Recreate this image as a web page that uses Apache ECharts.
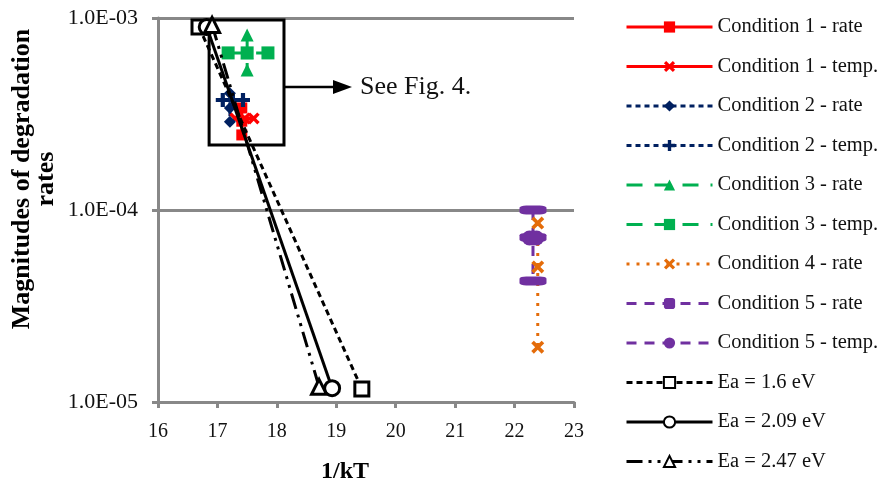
<!DOCTYPE html>
<html>
<head>
<meta charset="utf-8">
<script src="https://cdn.jsdelivr.net/npm/echarts@6/dist/echarts.min.js"></script>
<style>
  html, body { margin: 0; padding: 0; background: #fff; }
  #main { width: 883px; height: 485px; }
</style>
</head>
<body>
<div id="main"></div>
<script>
// data: [1/kT, rate]
const cond1Rate = [[17.41, 3.4e-4], [17.41, 2.9e-4], [17.41, 2.46e-4]];
const cond1Temp = [[17.30, 3.0e-4], [17.46, 3.0e-4], [17.61, 3.0e-4]];
const cond2Rate = [[17.21, 4.05e-4], [17.21, 3.4e-4], [17.21, 2.88e-4]];
const cond2Temp = [[17.09, 3.74e-4], [17.26, 3.74e-4], [17.43, 3.74e-4]];
const cond3Rate = [[17.50, 8.15e-4], [17.50, 6.6e-4], [17.50, 5.36e-4]];
const cond3Temp = [[17.18, 6.58e-4], [17.50, 6.58e-4], [17.85, 6.58e-4]];
const cond4Rate = [[22.39, 8.55e-5], [22.39, 5.05e-5], [22.39, 1.93e-5]];
const cond5Rate = [[22.31, 1.0e-4], [22.31, 7.2e-5], [22.31, 4.27e-5]];
const cond5Temp = [[22.25, 7.15e-5], [22.31, 7.15e-5], [22.37, 7.15e-5]];
const ea16 = [[16.69, 8.98e-4], [19.43, 1.17e-5]];
const ea209 = [[16.82, 8.98e-4], [18.93, 1.18e-5]];
const ea247 = [[16.91, 9.2e-4], [18.71, 1.2e-5]];

// annotation box (data coords) and arrow height
const boxCorners = [[16.86, 9.76e-4], [18.12, 2.18e-4]];
const arrowY = 4.37e-4;

const RED = '#FF0000', NAVY = '#002060', GREEN = '#00B050', ORANGE = '#E46C0A', PURPLE = '#7030A0';
const X_MARK = 'path://M0,2 L2,0 L5,3 L8,0 L10,2 L7,5 L10,8 L8,10 L5,7 L2,10 L0,8 L3,5 Z';
const PLUS = 'path://M3.5,0 H6.5 V3.5 H10 V6.5 H6.5 V10 H3.5 V6.5 H0 V3.5 H3.5 Z';
const FONT = '"Liberation Serif", "Times New Roman", serif';

function cond(name, data, color, type, symbol, size) {
  return {
    name: name, type: 'line', data: data,
    symbol: symbol, symbolSize: size,
    lineStyle: { color: color, width: 3, type: type },
    itemStyle: { color: color },
    z: 3
  };
}
function ea(name, data, type, symbol, size) {
  return {
    name: name, type: 'line', data: data,
    symbol: symbol, symbolSize: size,
    lineStyle: { color: '#000', width: 3, type: type },
    itemStyle: { color: '#fff', borderColor: '#000', borderWidth: 3 },
    z: 5
  };
}

const chart = echarts.init(document.getElementById('main'));
const option = {
  animation: false,
  textStyle: { fontFamily: FONT },
  grid: { left: 158, right: 309, top: 18, bottom: 83, containLabel: false, outerBoundsMode: 'none' },
  legend: {
    orient: 'vertical',
    left: 620, top: 10,
    itemWidth: 86, itemHeight: 14, itemGap: 15.5,
    lineStyle: { width: 3 },
    textStyle: { fontFamily: FONT, fontSize: 20.5, color: '#111', lineHeight: 24 }
  },
  xAxis: {
    type: 'value', min: 16, max: 23, interval: 1,
    name: '1/kT', nameLocation: 'middle', nameGap: 58,
    nameTextStyle: { fontFamily: FONT, fontSize: 24, fontWeight: 'bold', color: '#000', padding: [0, 42, 0, 0] },
    axisLine: { lineStyle: { color: '#888', width: 3 } },
    axisTick: { show: true, length: 6, lineStyle: { color: '#888', width: 3 } },
    axisLabel: { fontFamily: FONT, fontSize: 20, color: '#111', margin: 20 },
    splitLine: { show: false }
  },
  yAxis: {
    type: 'log', logBase: 10, min: 1e-5, max: 1e-3,
    name: 'Magnitudes of degradation\nrates', nameLocation: 'middle', nameGap: 100,
    nameTextStyle: {
      fontFamily: FONT, fontSize: 26, fontWeight: 'bold', color: '#000', lineHeight: 24,
      padding: [0, 0, 0, 62]
    },
    axisLine: { show: true, lineStyle: { color: '#888', width: 3 } },
    axisTick: { show: true, length: 6, lineStyle: { color: '#888', width: 3 } },
    axisLabel: {
      fontFamily: FONT, fontSize: 22, color: '#111', margin: 20,
      formatter: function (v) {
        const e = Math.round(Math.log10(v));
        const m = v / Math.pow(10, e);
        const ee = Math.abs(e);
        return m.toFixed(1) + 'E' + (e < 0 ? '-' : '+') + (ee < 10 ? '0' : '') + ee;
      }
    },
    splitLine: { show: true, lineStyle: { color: '#888', width: 3 } },
    minorTick: { show: false }
  },
  series: [
    cond('Condition 1 - rate', cond1Rate, RED, 'solid', 'rect', 11),
    cond('Condition 1 - temp.', cond1Temp, RED, 'solid', X_MARK, 12),
    cond('Condition 2 - rate', cond2Rate, NAVY, [5, 4], 'diamond', 12),
    cond('Condition 2 - temp.', cond2Temp, NAVY, [5, 4], PLUS, 14),
    cond('Condition 3 - rate', cond3Rate, GREEN, [16, 12], 'triangle', 13),
    cond('Condition 3 - temp.', cond3Temp, GREEN, [16, 12], 'rect', 13),
    cond('Condition 4 - rate', cond4Rate, ORANGE, [3, 7], X_MARK, 13),
    cond('Condition 5 - rate', cond5Rate, PURPLE, [10, 8], 'roundRect', [27, 9]),
    cond('Condition 5 - temp.', cond5Temp, PURPLE, [10, 8], 'circle', 15),
    ea('Ea = 1.6 eV', ea16, [6, 4], 'rect', 14),
    ea('Ea = 2.09 eV', ea209, 'solid', 'circle', 15),
    ea('Ea = 2.47 eV', ea247, [16, 6, 3, 6, 3, 6], 'triangle', 15)
  ]
};
chart.setOption(option);

// "See Fig. 4." box and arrow placed from data coordinates
const p1 = chart.convertToPixel({ gridIndex: 0 }, boxCorners[0]);
const p2 = chart.convertToPixel({ gridIndex: 0 }, boxCorners[1]);
const pa = chart.convertToPixel({ gridIndex: 0 }, [boxCorners[1][0], arrowY]);
chart.setOption({
  graphic: [
    {
      type: 'rect', z: 4,
      shape: { x: p1[0], y: p1[1], width: p2[0] - p1[0], height: p2[1] - p1[1] },
      style: { fill: 'none', stroke: '#000', lineWidth: 3 }
    },
    {
      type: 'line', z: 4,
      shape: { x1: pa[0], y1: pa[1], x2: pa[0] + 52, y2: pa[1] },
      style: { stroke: '#000', lineWidth: 2.5 }
    },
    {
      type: 'polygon', z: 4,
      shape: { points: [[pa[0] + 49, pa[1] - 7], [pa[0] + 68, pa[1]], [pa[0] + 49, pa[1] + 7]] },
      style: { fill: '#000' }
    },
    {
      type: 'text', z: 4,
      x: pa[0] + 76, y: pa[1],
      style: { text: 'See Fig. 4.', font: '26px ' + FONT, fill: '#111', verticalAlign: 'middle' }
    }
  ]
});
</script>
</body>
</html>
